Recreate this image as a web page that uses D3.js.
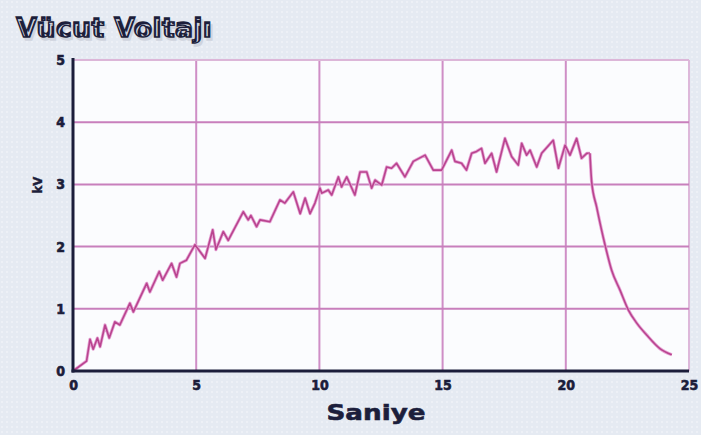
<!DOCTYPE html>
<html>
<head>
<meta charset="utf-8">
<script src="https://cdn.jsdelivr.net/npm/d3@7"></script>
<style>
  html, body { margin: 0; padding: 0; background: #e6ebf2; }
  svg { display: block; }
</style>
</head>
<body>
<svg id="chart" width="701" height="435"></svg>
<script>
// values (seconds, kV)
var seconds = [0, 0.55, 0.69, 0.82, 0.99, 1.1, 1.3, 1.47, 1.7, 1.9, 2.31, 2.45, 2.99, 3.12, 3.5, 3.64,
  4.0, 4.2, 4.34, 4.6, 4.95, 5.36, 5.67, 5.8, 6.1, 6.3, 6.91, 7.11, 7.22, 7.45, 7.59, 7.99, 8.4, 8.6,
  8.94, 9.22, 9.42, 9.62, 9.82, 10.02, 10.1, 10.36, 10.5, 10.77, 10.9, 11.11, 11.44, 11.65, 11.92, 12.12,
  12.26, 12.53, 12.73, 12.93, 13.13, 13.47, 13.81, 14.29, 14.62, 14.96, 15.37, 15.5, 15.77, 15.97,
  16.18, 16.38, 16.58, 16.72, 16.99, 17.19, 17.53, 17.8, 18.07, 18.21, 18.41, 18.55, 18.82, 19.02,
  19.49, 19.7, 19.97, 20.17, 20.44, 20.64, 20.85, 20.98];
var kv = [0, 0.16, 0.51, 0.35, 0.53, 0.39, 0.74, 0.53, 0.79, 0.74, 1.09, 0.95, 1.41, 1.27, 1.6, 1.46,
  1.73, 1.51, 1.73, 1.78, 2.03, 1.81, 2.27, 1.95, 2.24, 2.1, 2.56, 2.43, 2.5, 2.32, 2.43, 2.4, 2.75, 2.7,
  2.88, 2.53, 2.78, 2.53, 2.7, 2.94, 2.86, 2.91, 2.83, 3.12, 2.96, 3.12, 2.83, 3.2, 3.2, 2.94,
  3.07, 2.99, 3.28, 3.26, 3.34, 3.12, 3.37, 3.47, 3.23, 3.23, 3.55, 3.37, 3.34, 3.23,
  3.5, 3.53, 3.58, 3.34, 3.5, 3.2, 3.74, 3.45, 3.31, 3.66, 3.47, 3.55, 3.28, 3.5,
  3.71, 3.26, 3.63, 3.47, 3.74, 3.42, 3.5, 3.5];
// discharge after the source is cut (smooth tail)
var decaySeconds = [20.98, 21.05, 21.25, 21.59, 21.86, 22.2, 22.54, 22.88, 23.28, 23.82, 24.3];
var decayKv = [3.5, 3.04, 2.64, 2.03, 1.62, 1.3, 0.98, 0.77, 0.58, 0.36, 0.26];
var xTicks = [0, 5, 10, 15, 20, 25];
var yTicks = [0, 1, 2, 3, 4, 5];
var titleText = 'Vücut Voltajı';
var xLabel = 'Saniye';
var yLabel = 'kV';

var svg = d3.select('#chart');
var W = 701, H = 435;
// note: "top" is taken by window.top, so plot edges get a prefix
var pLeft = 73, pRight = 689, pTop = 60, pBottom = 371;

var x = d3.scaleLinear().domain([0, 25]).range([pLeft, pRight]);
var y = d3.scaleLinear().domain([0, 5]).range([pBottom, pTop]);

// dotted backdrop
var defs = svg.append('defs');
var pat = defs.append('pattern').attr('id', 'dots').attr('width', 5).attr('height', 5)
  .attr('patternUnits', 'userSpaceOnUse');
pat.append('rect').attr('width', 5).attr('height', 5).attr('fill', '#e5eaf2');
pat.append('rect').attr('x', 1).attr('y', 1).attr('width', 2).attr('height', 2).attr('fill', '#edf0f6');
svg.append('rect').attr('width', W).attr('height', H).attr('fill', 'url(#dots)');

// plot area
svg.append('rect').attr('x', pLeft).attr('y', pTop).attr('width', pRight - pLeft).attr('height', pBottom - pTop)
  .attr('fill', '#fbfcfe');

// grid
svg.append('g').selectAll('line').data(xTicks.filter(function(d) { return d > 0; }))
  .enter().append('line')
    .attr('x1', function(d) { return x(d); }).attr('x2', function(d) { return x(d); })
    .attr('y1', pTop).attr('y2', pBottom)
    .attr('stroke', function(d) { return d == 25 ? '#ddb8da' : '#cf8ec6'; })
    .attr('stroke-width', 2);
svg.append('g').selectAll('line').data(yTicks.filter(function(d) { return d > 0; }))
  .enter().append('line')
    .attr('x1', pLeft).attr('x2', pRight)
    .attr('y1', function(d) { return y(d); }).attr('y2', function(d) { return y(d); })
    .attr('stroke', function(d) { return d == 5 ? '#dcb6d8' : '#c87fbc'; })
    .attr('stroke-width', 2);

// the voltage trace: jagged charge, then a smooth discharge
var rise = seconds.map(function(t, i) { return [t, kv[i]]; });
var fall = decaySeconds.map(function(t, i) { return [t, decayKv[i]]; });
var line = d3.line().x(function(d) { return x(d[0]); }).y(function(d) { return y(d[1]); });
var smooth = d3.line().curve(d3.curveMonotoneX).x(function(d) { return x(d[0]); }).y(function(d) { return y(d[1]); });
[[rise, line], [fall, smooth]].forEach(function(p) {
  svg.append('path').datum(p[0]).attr('d', p[1])
    .attr('fill', 'none').attr('stroke', '#e6a3d4').attr('stroke-width', 3.2).attr('stroke-linejoin', 'round');
  svg.append('path').datum(p[0]).attr('d', p[1])
    .attr('fill', 'none').attr('stroke', '#b9448f').attr('stroke-width', 1.6).attr('stroke-linejoin', 'round');
});

// axis lines
svg.append('line').attr('x1', pLeft).attr('x2', pLeft).attr('y1', pTop - 2).attr('y2', pBottom + 1.5)
  .attr('stroke', '#1b1d3a').attr('stroke-width', 3);
svg.append('line').attr('x1', pLeft - 1.5).attr('x2', pRight).attr('y1', pBottom).attr('y2', pBottom)
  .attr('stroke', '#1b1d3a').attr('stroke-width', 3);

var tickFont = '"DejaVu Sans Condensed", "DejaVu Sans", sans-serif';

var xAxis = svg.append('g').attr('transform', 'translate(0,' + (pBottom + 6) + ')')
  .call(d3.axisBottom(x).tickValues(xTicks).tickSize(0).tickFormat(d3.format('d')));
var yAxis = svg.append('g').attr('transform', 'translate(' + (pLeft - 5) + ',0)')
  .call(d3.axisLeft(y).tickValues(yTicks).tickSize(0).tickFormat(d3.format('d')));
[xAxis, yAxis].forEach(function(a) {
  a.select('.domain').remove();
  a.selectAll('text')
    .attr('fill', '#1b1d3a').attr('stroke', '#1b1d3a').attr('stroke-width', 0.6)
    .style('font-family', tickFont).style('font-weight', 'bold').style('font-size', '14px');
});

// title
svg.append('text').attr('x', 16).attr('y', 37).text(titleText)
  .attr('fill', '#1c1e3b').attr('stroke', '#1c1e3b').attr('stroke-width', 1.4)
  .attr('textLength', 196).attr('lengthAdjust', 'spacingAndGlyphs')
  .style('text-shadow', '2px 3px 0 #d0d4de')
  .style('font-family', '"DejaVu Sans", sans-serif').style('font-weight', 'bold').style('font-size', '27px');

// axis titles
svg.append('text').attr('x', 376).attr('y', 420).attr('text-anchor', 'middle').text(xLabel)
  .attr('fill', '#1c1e3b').attr('stroke', '#1c1e3b').attr('stroke-width', 0.6)
  .attr('textLength', 99).attr('lengthAdjust', 'spacingAndGlyphs')
  .style('font-family', '"DejaVu Sans", sans-serif').style('font-weight', 'bold').style('font-size', '22px');
svg.append('text').attr('transform', 'translate(42,185) rotate(-90)').attr('text-anchor', 'middle').text(yLabel)
  .attr('fill', '#1c1e3b').attr('stroke', '#1c1e3b').attr('stroke-width', 0.4)
  .style('font-family', tickFont).style('font-weight', 'bold').style('font-size', '13px');
</script>
</body>
</html>
